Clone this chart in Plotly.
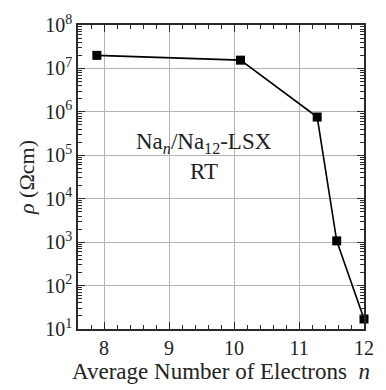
import plotly.graph_objects as go

# Average number of electrons per supercage vs. resistivity (room temperature)
electrons_n = [7.89, 10.1, 11.28, 11.58, 12.0]
resistivity = [2.0e7, 1.55e7, 7.6e5, 1.07e3, 17]

x_ticks = [8, 9, 10, 11, 12]
y_exponents = [1, 2, 3, 4, 5, 6, 7, 8]
y_tick_labels = [f"10<sup>{e}</sup>" for e in y_exponents]
y_range_log = [1, 8]
x_range = [7.6, 12.0]

# minor tick positions
x_minor = [round(7.6 + 0.2 * i, 1) for i in range(23)]
y_minor = [m * 10 ** e for e in range(1, 8) for m in range(2, 10)]

FONT = "Liberation Serif"
GRID = "#b4b4b4"
AXIS = "#2a2a2a"
TXT = "#222222"

fig = go.Figure()
fig.add_trace(go.Scatter(
    x=electrons_n, y=resistivity,
    mode="lines+markers",
    line=dict(color="black", width=1.6),
    marker=dict(symbol="square", size=9, color="black"),
    cliponaxis=False,
    showlegend=False,
))

fig.update_layout(
    xaxis=dict(
        range=x_range, tickvals=x_ticks,
        showgrid=True, gridcolor=GRID, gridwidth=1,
        showline=True, linecolor=AXIS, linewidth=1.5, mirror="ticks",
        ticks="inside", ticklen=7, tickcolor=AXIS, tickwidth=1.3,
        minor=dict(tickmode="array", tickvals=x_minor, ticks="inside",
                   ticklen=4, tickcolor=AXIS, tickwidth=1.3, showgrid=False),
        tickfont=dict(family=FONT, size=20, color=TXT),
        title=dict(text="Average Number of Electrons  <i>n</i>",
                   font=dict(family=FONT, size=23, color=TXT), standoff=3),
        zeroline=False, layer="above traces",
    ),
    yaxis=dict(
        type="log", range=y_range_log,
        tickvals=[10 ** e for e in y_exponents], ticktext=y_tick_labels,
        showgrid=True, gridcolor=GRID, gridwidth=1,
        showline=True, linecolor=AXIS, linewidth=1.5, mirror="ticks",
        ticks="inside", ticklen=7, tickcolor=AXIS, tickwidth=1.3,
        minor=dict(tickmode="array", tickvals=y_minor, ticks="inside",
                   ticklen=4, tickcolor=AXIS, tickwidth=1.3, showgrid=False),
        tickfont=dict(family=FONT, size=20, color=TXT),
        title=dict(text="<i>ρ</i> (Ωcm)", font=dict(family=FONT, size=22, color=TXT),
                   standoff=5),
        zeroline=False, layer="above traces",
    ),
)

# white panel behind the label, drawn over the grid but under the data line
fig.add_shape(
    type="rect", xref="paper", yref="paper",
    x0=0.2, x1=0.687, y0=0.466, y1=0.661,
    fillcolor="white", line=dict(width=0), layer="between",
)
fig.add_annotation(
    xref="paper", yref="paper", x=0.442, y=0.612,
    text="Na<sub><i>n</i></sub>/Na<sub>12</sub>-LSX",
    showarrow=False, font=dict(family=FONT, size=23, color=TXT),
)
fig.add_annotation(
    xref="paper", yref="paper", x=0.442, y=0.518,
    text="RT", showarrow=False, font=dict(family=FONT, size=23, color=TXT),
)

fig.update_layout(
    width=386, height=390,
    margin=dict(l=78, r=14, t=24, b=59),
    plot_bgcolor="white", paper_bgcolor="white",
)

fig.write_html("out.html")
